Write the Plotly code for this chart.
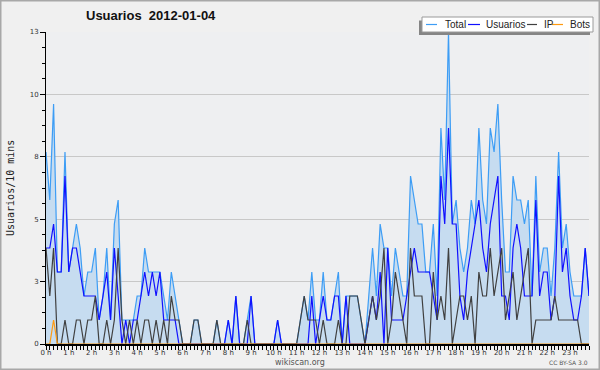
import plotly.graph_objects as go

# ---- data (10-minute intervals, 2012-01-04) ----
usuarios = [4, 4, 5, 3, 3, 7, 3, 4, 4, 3,
            2, 2, 2, 2, 1, 2, 3, 1, 4, 2,
            0, 1, 0, 1, 1, 2, 3, 2, 3, 2,
            3, 1, 1, 1, 1, 0, 0, 0, 0, 0,
            0, 0, 0, 0, 0, 0, 0, 0, 1, 0,
            2, 0, 0, 0, 2, 0, 0, 0, 0, 0,
            0, 1, 0, 0, 0, 0, 0, 0, 0, 0,
            2, 0, 1, 2, 1, 1, 2, 2, 0, 2,
            0, 0, 0, 0, 0, 1, 2, 1, 3, 0,
            4, 1, 1, 1, 1, 2, 3, 4, 3, 3,
            3, 3, 2, 1, 7, 5, 9, 5, 5, 2,
            1, 3, 4, 5, 6, 4, 3, 5, 6, 7,
            2, 2, 1, 4, 5, 4, 2, 2, 2, 6,
            2, 3, 3, 1, 2, 7, 3, 4, 2, 1,
            1, 2, 4, 2]

ip = [4, 2, 4, 0, 0, 1, 0, 0, 1, 1,
      0, 1, 1, 2, 0, 0, 1, 0, 1, 4,
      1, 0, 1, 0, 1, 0, 1, 1, 0, 1,
      0, 1, 0, 2, 1, 1, 0, 0, 0, 1,
      1, 0, 0, 0, 0, 1, 0, 0, 0, 0,
      0, 0, 0, 1, 0, 0, 0, 0, 0, 0,
      0, 0, 0, 0, 0, 0, 0, 1, 2, 1,
      1, 1, 0, 1, 0, 0, 0, 1, 0, 0,
      2, 2, 2, 1, 0, 1, 2, 1, 2, 4,
      0, 1, 3, 2, 1, 0, 4, 2, 2, 2,
      0, 0, 3, 1, 2, 1, 4, 0, 1, 2,
      2, 1, 2, 0, 3, 2, 2, 4, 2, 3,
      4, 1, 2, 3, 1, 2, 3, 4, 0, 1,
      1, 1, 1, 1, 2, 1, 1, 1, 1, 1,
      1, 0, 0, 0]

total = [8, 6, 10, 3, 3, 8, 3, 4, 5, 4,
         2, 3, 3, 4, 1, 2, 4, 1, 5, 6,
         1, 1, 1, 1, 2, 2, 4, 3, 3, 3,
         3, 2, 1, 3, 2, 1, 0, 0, 0, 1,
         1, 0, 0, 0, 0, 1, 0, 0, 1, 0,
         2, 0, 0, 1, 2, 0, 0, 0, 0, 0,
         0, 1, 0, 0, 0, 0, 0, 1, 2, 1,
         3, 1, 1, 3, 1, 1, 2, 3, 0, 2,
         2, 2, 2, 1, 0, 2, 4, 2, 5, 4,
         4, 2, 4, 3, 2, 2, 7, 6, 5, 5,
         3, 3, 5, 2, 9, 6, 13, 5, 6, 4,
         3, 4, 6, 5, 9, 6, 5, 9, 8, 10,
         6, 3, 3, 7, 6, 6, 5, 6, 2, 7,
         3, 4, 4, 2, 4, 8, 4, 5, 3, 2,
         2, 2, 4, 2]

bots = [0, 0, 1, 0, 0, 0, 0, 0, 0, 0,
        0, 0, 0, 0, 0, 0, 0, 0, 0, 0,
        0, 0, 0, 0, 0, 0, 0, 0, 0, 0,
        0, 0, 0, 0, 0, 0, 0, 0, 0, 0,
        0, 0, 0, 0, 0, 0, 0, 0, 0, 0,
        0, 0, 0, 0, 0, 0, 0, 0, 0, 0,
        0, 0, 0, 0, 0, 0, 0, 0, 0, 0,
        0, 0, 0, 0, 0, 0, 0, 0, 0, 0,
        0, 0, 0, 0, 0, 0, 0, 0, 0, 0,
        0, 0, 0, 0, 0, 0, 0, 0, 0, 0,
        0, 0, 0, 0, 0, 0, 0, 0, 0, 0,
        0, 0, 0, 0, 0, 0, 0, 0, 0, 0,
        0, 0, 0, 0, 0, 0, 0, 0, 0, 0,
        0, 0, 0, 0, 0, 0, 0, 0, 0, 0,
        0, 0, 0, 0]

hour_ticks = list(range(24))
hour_labels = ["0 h", "1 h", "2 h", "3 h", "4 h", "5 h", "6 h", "7 h",
               "8 h", "9 h", "10 h", "11 h", "12 h", "13 h", "14 h", "15 h",
               "16 h", "17 h", "18 h", "19 h", "20 h", "21 h", "22 h", "23 h"]
y_tickvals = [0, 2.6, 5.2, 7.8, 10.4, 13]
y_ticktext = ["0", "3", "5", "8", "10", "13"]

series_names = ["Total", "Usuarios", "IP", "Bots"]
series_colors = ["#3d9df5", "#1010ff", "#404040", "#ff9a10"]

# x positions: hours of each 10-minute slot
x = [i / 6 for i in range(len(total))]

W, H = 600, 370
L, R, T, B = 46, 11, 32, 26
pw, ph = W - L - R, H - T - B


def px(v):
    return (v - L) / pw


def py(v):
    return (H - B - v) / ph


fig = go.Figure()
fig.add_trace(go.Scatter(x=x, y=total, mode="lines", name="Total",
                         line=dict(color=series_colors[0], width=1.2),
                         fill="tozeroy", fillcolor="#c6dcf0"))
fig.add_trace(go.Scatter(x=x, y=usuarios, mode="lines", name="Usuarios",
                         line=dict(color=series_colors[1], width=1.2)))
fig.add_trace(go.Scatter(x=x, y=ip, mode="lines", name="IP",
                         line=dict(color=series_colors[2], width=1.2)))
fig.add_trace(go.Scatter(x=x, y=bots, mode="lines", name="Bots",
                         line=dict(color=series_colors[3], width=1.2)))

shapes = [
    # outer border
    dict(type="rect", xref="paper", yref="paper", x0=px(0.75), x1=px(599.25),
         y0=py(369.25), y1=py(0.75), line=dict(color="#a8a8a8", width=1.5),
         fillcolor="rgba(0,0,0,0)", layer="above"),
    # legend shadow
    dict(type="rect", xref="paper", yref="paper", x0=px(419), x1=px(590),
         y0=py(35), y1=py(20.5), line=dict(width=0), fillcolor="#858585",
         layer="above"),
    # legend box
    dict(type="rect", xref="paper", yref="paper", x0=px(422), x1=px(593),
         y0=py(32), y1=py(17), line=dict(color="#9a9a9a", width=1),
         fillcolor="#ffffff", layer="above"),
]
legend_line_x = [(426, 437), (468, 480), (527, 537), (552, 563)]
legend_text_x = [443, 484, 541.5, 568]
for (a, b), c in zip(legend_line_x, series_colors):
    shapes.append(dict(type="line", xref="paper", yref="paper",
                       x0=px(a), x1=px(b), y0=py(24.5), y1=py(24.5),
                       line=dict(color=c, width=1.2), layer="above"))

annotations = [
    dict(text="<b>Usuarios\u00a0 2012-01-04</b>", xref="paper", yref="paper",
         x=px(151), y=py(16), showarrow=False, xanchor="center", yanchor="middle",
         font=dict(family="Liberation Sans, Arial, sans-serif", size=13, color="#111")),
    dict(text="Usuarios/10 mins", xref="paper", yref="paper",
         x=px(10), y=py(188), showarrow=False, textangle=-90,
         xanchor="center", yanchor="middle",
         font=dict(family="DejaVu Sans Mono, monospace", size=10, color="#222")),
    dict(text="wikiscan.org", xref="paper", yref="paper",
         x=px(300), y=py(362), showarrow=False, xanchor="center", yanchor="middle",
         font=dict(family="DejaVu Sans, sans-serif", size=8, color="#555")),
    dict(text="CC BY-SA 3.0", xref="paper", yref="paper",
         x=px(590), y=py(362.5), showarrow=False, xanchor="right", yanchor="middle",
         font=dict(family="DejaVu Sans, sans-serif", size=6, color="#555")),
]
for name, tx in zip(series_names, legend_text_x):
    annotations.append(dict(text=name, xref="paper", yref="paper",
                            x=px(tx), y=py(24.5), showarrow=False,
                            xanchor="left", yanchor="middle",
                            font=dict(family="Liberation Sans, Arial, sans-serif",
                                      size=10, color="#222")))

fig.update_layout(
    width=W, height=H,
    margin=dict(l=L, r=R, t=T, b=B, pad=0),
    paper_bgcolor="#f0f0f0",
    plot_bgcolor="#eeeff1",
    showlegend=False,
    hovermode=False,
    shapes=shapes,
    annotations=annotations,
    xaxis=dict(range=[0, x[-1]], tickvals=hour_ticks, ticktext=hour_labels,
               showgrid=False, zeroline=False, showline=True,
               linecolor="#000", linewidth=1.5, ticks="outside", ticklen=4,
               tickcolor="#000", tickwidth=1, ticklabelstandoff=-3,
               tickfont=dict(family="DejaVu Sans, sans-serif", size=7, color="#333"),
               minor=dict(dtick=1 / 6, tick0=0, ticks="outside", ticklen=4,
                          tickcolor="#000", tickwidth=1, showgrid=False)),
    yaxis=dict(range=[0, 13], tickvals=y_tickvals, ticktext=y_ticktext,
               showgrid=True, gridcolor="#c8c8c8", gridwidth=1,
               zeroline=False, showline=True, linecolor="#000", linewidth=1,
               ticks="outside", ticklen=5, tickcolor="#000", tickwidth=1,
               tickfont=dict(family="DejaVu Sans, sans-serif", size=7, color="#333"),
               minor=dict(dtick=0.65, tick0=0, ticks="outside", ticklen=3,
                          tickcolor="#000", tickwidth=1, showgrid=False)),
)

fig.write_html("out.html", config={"displayModeBar": False},
               post_script="document.body.style.margin='0';document.body.style.overflow='hidden';")
